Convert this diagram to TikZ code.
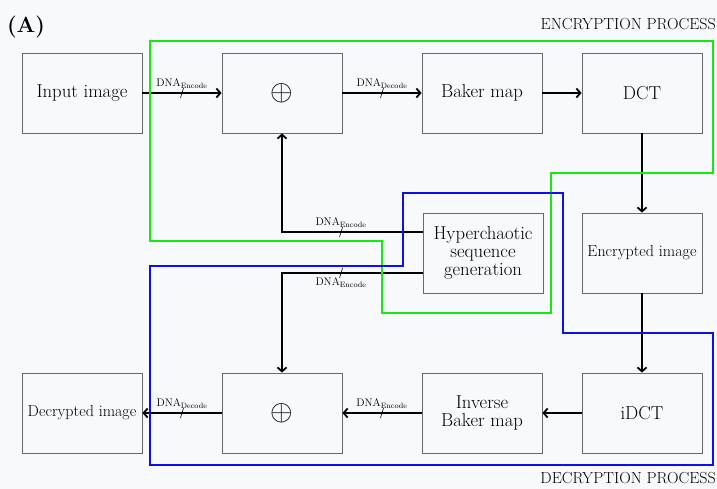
\documentclass[tikz,border=0pt]{standalone}
\usepackage{amsmath,amssymb}
\usepackage{fontspec}
\usepackage{tikz}
\usepackage{xcolor}
\usetikzlibrary{arrows.meta}
\definecolor{encgreen}{RGB}{20,235,20}
\definecolor{decblue}{RGB}{15,15,235}
\definecolor{bggray}{RGB}{248,249,251}
\definecolor{boxgray}{RGB}{105,105,105}

\begin{document}
\begin{tikzpicture}[x=1pt,y=-1pt,
  blk/.style={draw=boxgray, line width=0.8pt, minimum width=120pt, minimum height=80pt, inner sep=2pt, align=center, font=\fontsize{18.7}{18.4}\selectfont},
  conn/.style={line width=1.8pt, -{Straight Barb[length=4pt,width=9pt]}},
  lbl/.style={font=\fontsize{11}{13}\selectfont, inner sep=1pt},
  frame/.style={line width=1.6pt}]
  \fill[bggray] (0,0) rectangle (717,489); \useasboundingbox (0,0) rectangle (717,489);
  % blocks
  \node[blk] (inp) at (82,93) {Input image}; \node[blk] (xtop) at (282,93) {\normalsize\scalebox{2.9}{$\oplus$}};
  \node[blk] (bak) at (482,93) {Baker map}; \node[blk] (dct) at (642,93) {DCT};
  \node[blk] (hyp) at (483,253) {Hyperchaotic\\sequence\\generation};
  \node[blk, font=\fontsize{16}{18}\selectfont] (enc) at (642,253) {Encrypted image};
  \node[blk, font=\fontsize{16}{18}\selectfont] (dec) at (82,413) {Decrypted image}; \node[blk] (xbot) at (282,413) {\normalsize\scalebox{2.9}{$\oplus$}};
  \node[blk] (ibak) at (482,413) {Inverse\\Baker map}; \node[blk] (idct) at (642,413) {iDCT};
  \node[font=\bfseries\fontsize{22}{24}\selectfont, inner sep=0pt] (lab) at (26,27) {(A)};
  \node[anchor=east, font=\fontsize{16}{18}\selectfont, inner sep=0pt] (encp) at (716,24) {ENCRYPTION PROCESS};
  \node[anchor=east, font=\fontsize{16}{18}\selectfont, inner sep=0pt] (decp) at (716,478) {DECRYPTION PROCESS};
  % connectors
  \draw[conn] (inp) -- node[lbl, above=3pt] {DNA\textsubscript{Encode}} coordinate[midway] (t1) (xtop);
  \draw[conn] (xtop) -- node[lbl, above=3pt] {DNA\textsubscript{Decode}} coordinate[midway] (t2) (bak);
  \draw[conn] (bak) -- (dct); \draw[conn] (dct) -- (enc); \draw[conn] (enc) -- (idct); \draw[conn] (idct) -- (ibak);
  \draw[conn] (ibak) -- node[lbl, above=3pt] {DNA\textsubscript{Encode}} coordinate[midway] (t3) (xbot);
  \draw[conn] (xbot) -- node[lbl, above=3pt] {DNA\textsubscript{Decode}} coordinate[midway] (t4) (dec);
  \draw[conn] ([yshift=21pt]hyp.west) -| node[lbl, above=3pt, pos=0.29] {DNA\textsubscript{Encode}} coordinate[pos=0.29] (t5) (xtop.south);
  \draw[conn] ([yshift=-20pt]hyp.west) -| node[lbl, below=3pt, pos=0.29] {DNA\textsubscript{Encode}} coordinate[pos=0.29] (t6) (xbot.north);
  \foreach \t in {t1,t2,t3,t4,t5,t6} \draw[line width=0.6pt] (\t) +(-1.5,5) -- +(1.5,-5);
  % process frames
  \draw[frame, encgreen] (150,41) -- (713,41) -- (713,173) -- (551,173) -- (551,313) -- (382,313) -- (382,241) -- (150,241) -- cycle;
  \draw[frame, decblue] (403,193) -- (563,193) -- (563,333) -- (713,333) -- (713,465) -- (150,465) -- (150,266) -- (403,266) -- cycle;
\end{tikzpicture}
\end{document}
